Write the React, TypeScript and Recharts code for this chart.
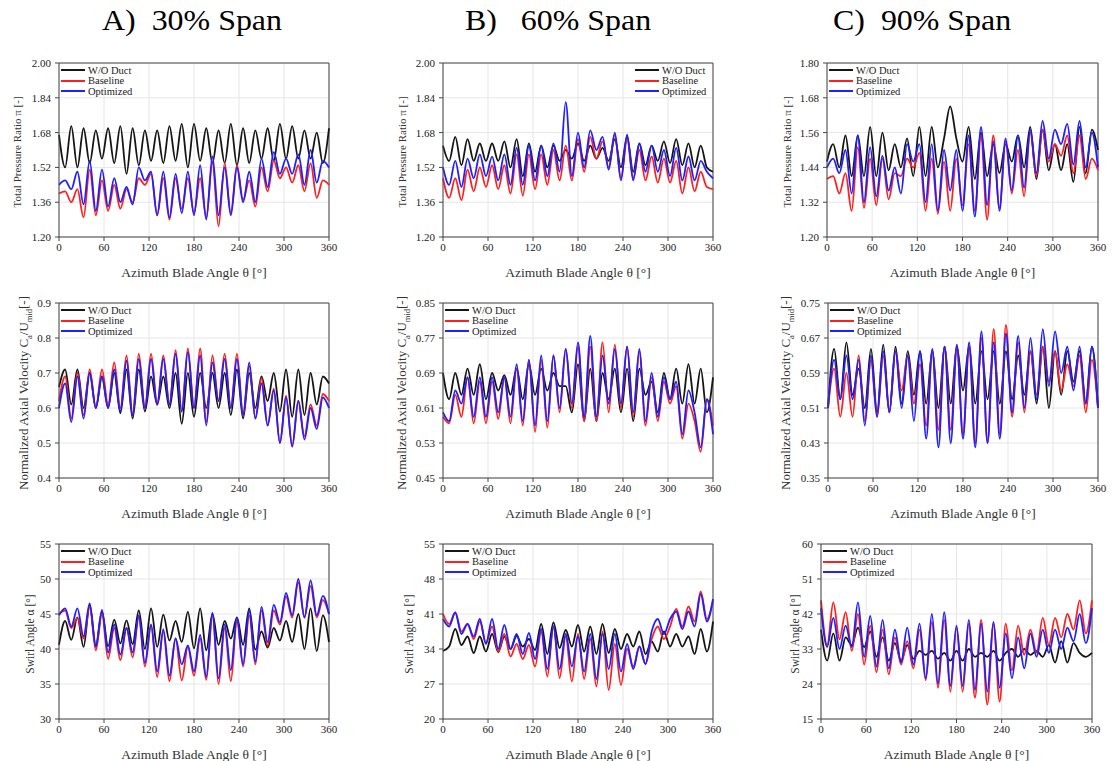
import React from "react";
import { CartesianGrid, Line, LineChart, ReferenceLine, XAxis, YAxis } from "recharts";

const SERIF = '"Liberation Serif", "Times New Roman", serif';

// blade passage angles (22 blades -> peak / trough every ~8.2 deg)
const ANGLES = [
  0, 8.18, 16.36, 24.55, 32.73, 40.91, 49.09, 57.27, 65.45,
  73.64, 81.82, 90, 98.18, 106.36, 114.55, 122.73, 130.91, 139.09,
  147.27, 155.45, 163.64, 171.82, 180, 188.18, 196.36, 204.55, 212.73,
  220.91, 229.09, 237.27, 245.45, 253.64, 261.82, 270, 278.18, 286.36,
  294.55, 302.73, 310.91, 319.09, 327.27, 335.45, 343.64, 351.82, 360,
];
const X_TICKS = [0, 60, 120, 180, 240, 300, 360];

// ---- total pressure ratio ----
const pr30Duct = [
  1.67, 1.52, 1.71, 1.52, 1.70, 1.54, 1.69, 1.56, 1.70,
  1.54, 1.71, 1.49, 1.70, 1.53, 1.69, 1.55, 1.69, 1.54,
  1.71, 1.55, 1.72, 1.52, 1.72, 1.55, 1.70, 1.54, 1.69,
  1.54, 1.72, 1.53, 1.70, 1.54, 1.69, 1.56, 1.70, 1.55,
  1.72, 1.56, 1.71, 1.56, 1.69, 1.56, 1.68, 1.54, 1.70,
];
const pr30Base = [
  1.40, 1.41, 1.36, 1.42, 1.29, 1.51, 1.30, 1.46, 1.32,
  1.44, 1.33, 1.42, 1.36, 1.47, 1.44, 1.49, 1.30, 1.47,
  1.28, 1.47, 1.33, 1.47, 1.31, 1.47, 1.29, 1.54, 1.25,
  1.54, 1.31, 1.53, 1.37, 1.46, 1.34, 1.52, 1.41, 1.55,
  1.47, 1.52, 1.45, 1.53, 1.41, 1.54, 1.38, 1.46, 1.44,
];
const pr30Opt = [
  1.44, 1.46, 1.42, 1.50, 1.35, 1.55, 1.32, 1.51, 1.34,
  1.47, 1.36, 1.43, 1.35, 1.52, 1.46, 1.50, 1.30, 1.50,
  1.29, 1.49, 1.31, 1.50, 1.30, 1.53, 1.28, 1.57, 1.30,
  1.52, 1.30, 1.52, 1.36, 1.50, 1.36, 1.56, 1.43, 1.59,
  1.49, 1.56, 1.49, 1.58, 1.44, 1.60, 1.45, 1.55, 1.52,
];
const pr60Duct = [
  1.62, 1.55, 1.66, 1.53, 1.65, 1.55, 1.63, 1.55, 1.63,
  1.55, 1.64, 1.52, 1.65, 1.48, 1.63, 1.50, 1.62, 1.52,
  1.62, 1.55, 1.60, 1.56, 1.63, 1.55, 1.62, 1.56, 1.61,
  1.55, 1.65, 1.52, 1.66, 1.50, 1.63, 1.53, 1.62, 1.55,
  1.64, 1.54, 1.65, 1.53, 1.63, 1.52, 1.62, 1.52, 1.50,
];
const pr60Base = [
  1.47, 1.38, 1.47, 1.37, 1.51, 1.41, 1.52, 1.43, 1.53,
  1.42, 1.53, 1.40, 1.58, 1.39, 1.58, 1.42, 1.58, 1.44,
  1.60, 1.46, 1.62, 1.46, 1.65, 1.50, 1.66, 1.56, 1.64,
  1.52, 1.67, 1.47, 1.65, 1.47, 1.60, 1.46, 1.57, 1.45,
  1.56, 1.45, 1.55, 1.40, 1.52, 1.41, 1.50, 1.43, 1.42,
];
const pr60Opt = [
  1.52, 1.44, 1.55, 1.43, 1.56, 1.47, 1.58, 1.48, 1.57,
  1.46, 1.58, 1.44, 1.61, 1.44, 1.62, 1.46, 1.62, 1.48,
  1.63, 1.50, 1.82, 1.48, 1.68, 1.52, 1.69, 1.60, 1.66,
  1.51, 1.68, 1.46, 1.67, 1.46, 1.63, 1.50, 1.62, 1.50,
  1.60, 1.48, 1.61, 1.46, 1.57, 1.46, 1.55, 1.50, 1.47,
];
const pr90Duct = [
  1.46, 1.52, 1.44, 1.55, 1.41, 1.55, 1.41, 1.58, 1.41,
  1.56, 1.43, 1.52, 1.44, 1.54, 1.41, 1.58, 1.41, 1.58,
  1.44, 1.54, 1.65, 1.54, 1.46, 1.58, 1.40, 1.56, 1.41,
  1.52, 1.42, 1.52, 1.46, 1.55, 1.44, 1.58, 1.40, 1.57,
  1.43, 1.52, 1.43, 1.52, 1.39, 1.58, 1.42, 1.57, 1.50,
];
const pr90Base = [
  1.40, 1.41, 1.35, 1.42, 1.29, 1.51, 1.30, 1.47, 1.31,
  1.47, 1.33, 1.42, 1.41, 1.47, 1.44, 1.49, 1.29, 1.47,
  1.28, 1.46, 1.29, 1.47, 1.31, 1.52, 1.29, 1.55, 1.26,
  1.55, 1.30, 1.53, 1.35, 1.50, 1.34, 1.56, 1.41, 1.57,
  1.46, 1.52, 1.48, 1.55, 1.42, 1.55, 1.40, 1.47, 1.43,
];
const pr90Opt = [
  1.44, 1.47, 1.42, 1.50, 1.35, 1.55, 1.32, 1.51, 1.34,
  1.48, 1.36, 1.44, 1.35, 1.52, 1.46, 1.52, 1.32, 1.52,
  1.29, 1.50, 1.36, 1.50, 1.29, 1.55, 1.27, 1.58, 1.31,
  1.53, 1.29, 1.54, 1.36, 1.55, 1.37, 1.57, 1.42, 1.60,
  1.47, 1.57, 1.52, 1.59, 1.45, 1.60, 1.44, 1.56, 1.44,
];

// ---- normalized axial velocity ----
const ca30Duct = [
  0.66, 0.71, 0.61, 0.71, 0.60, 0.70, 0.60, 0.69, 0.60,
  0.70, 0.585, 0.71, 0.57, 0.71, 0.59, 0.69, 0.61, 0.69,
  0.60, 0.70, 0.555, 0.70, 0.575, 0.70, 0.60, 0.70, 0.60,
  0.70, 0.58, 0.71, 0.57, 0.70, 0.60, 0.69, 0.62, 0.70,
  0.59, 0.71, 0.575, 0.71, 0.58, 0.70, 0.61, 0.69, 0.67,
];
const ca30Base = [
  0.62, 0.69, 0.57, 0.70, 0.58, 0.71, 0.60, 0.71, 0.61,
  0.73, 0.60, 0.75, 0.58, 0.755, 0.60, 0.755, 0.61, 0.75,
  0.61, 0.765, 0.59, 0.77, 0.60, 0.77, 0.56, 0.75, 0.62,
  0.755, 0.60, 0.755, 0.58, 0.72, 0.57, 0.685, 0.55, 0.655,
  0.50, 0.635, 0.49, 0.62, 0.52, 0.61, 0.55, 0.64, 0.62,
];
const ca30Opt = [
  0.60, 0.67, 0.56, 0.69, 0.57, 0.70, 0.60, 0.69, 0.60,
  0.71, 0.59, 0.735, 0.58, 0.74, 0.60, 0.74, 0.61, 0.74,
  0.61, 0.755, 0.59, 0.76, 0.60, 0.75, 0.55, 0.73, 0.62,
  0.74, 0.60, 0.74, 0.58, 0.73, 0.57, 0.67, 0.55, 0.65,
  0.50, 0.63, 0.49, 0.62, 0.51, 0.60, 0.54, 0.63, 0.60,
];
const ca60Duct = [
  0.69, 0.63, 0.69, 0.64, 0.70, 0.64, 0.71, 0.63, 0.69,
  0.65, 0.685, 0.64, 0.70, 0.63, 0.71, 0.64, 0.70, 0.65,
  0.69, 0.66, 0.66, 0.60, 0.71, 0.58, 0.70, 0.58, 0.69,
  0.63, 0.70, 0.60, 0.70, 0.58, 0.70, 0.64, 0.67, 0.60,
  0.69, 0.63, 0.70, 0.62, 0.71, 0.62, 0.70, 0.60, 0.68,
];
const ca60Base = [
  0.59, 0.575, 0.64, 0.59, 0.68, 0.575, 0.67, 0.575, 0.67,
  0.585, 0.68, 0.575, 0.70, 0.57, 0.72, 0.555, 0.72, 0.565,
  0.73, 0.60, 0.745, 0.61, 0.75, 0.58, 0.75, 0.58, 0.76,
  0.60, 0.755, 0.61, 0.75, 0.59, 0.74, 0.57, 0.68, 0.58,
  0.67, 0.62, 0.66, 0.54, 0.62, 0.58, 0.51, 0.63, 0.57,
];
const ca60Opt = [
  0.60, 0.58, 0.65, 0.62, 0.68, 0.59, 0.68, 0.59, 0.68,
  0.60, 0.68, 0.59, 0.71, 0.58, 0.72, 0.57, 0.73, 0.58,
  0.73, 0.61, 0.745, 0.62, 0.76, 0.59, 0.775, 0.59, 0.73,
  0.62, 0.745, 0.62, 0.75, 0.60, 0.745, 0.58, 0.69, 0.59,
  0.68, 0.63, 0.67, 0.55, 0.65, 0.60, 0.52, 0.63, 0.55,
];
const ca90Duct = [
  0.51, 0.645, 0.53, 0.66, 0.54, 0.60, 0.51, 0.645, 0.50,
  0.655, 0.50, 0.65, 0.52, 0.64, 0.54, 0.64, 0.52, 0.64,
  0.51, 0.65, 0.52, 0.65, 0.55, 0.65, 0.52, 0.64, 0.53,
  0.64, 0.52, 0.64, 0.53, 0.63, 0.54, 0.64, 0.52, 0.65,
  0.51, 0.64, 0.54, 0.64, 0.57, 0.64, 0.52, 0.65, 0.51,
];
const ca90Base = [
  0.51, 0.60, 0.49, 0.59, 0.49, 0.63, 0.48, 0.62, 0.49,
  0.63, 0.50, 0.64, 0.55, 0.63, 0.52, 0.61, 0.47, 0.64,
  0.46, 0.65, 0.46, 0.65, 0.45, 0.65, 0.43, 0.67, 0.43,
  0.69, 0.45, 0.70, 0.49, 0.66, 0.50, 0.64, 0.54, 0.65,
  0.57, 0.64, 0.55, 0.61, 0.56, 0.63, 0.50, 0.62, 0.51,
];
const ca90Opt = [
  0.51, 0.62, 0.53, 0.63, 0.53, 0.62, 0.47, 0.63, 0.49,
  0.64, 0.50, 0.64, 0.51, 0.63, 0.48, 0.64, 0.44, 0.645,
  0.42, 0.65, 0.43, 0.655, 0.44, 0.66, 0.42, 0.685, 0.43,
  0.66, 0.44, 0.68, 0.50, 0.675, 0.51, 0.67, 0.53, 0.69,
  0.56, 0.685, 0.59, 0.65, 0.55, 0.65, 0.52, 0.65, 0.51,
];

// ---- swirl angle ----
const sw30Duct = [
  40.6, 44.0, 41.3, 44.5, 40.3, 46.3, 40.5, 45.3, 40.4,
  44.2, 40.8, 44.1, 40.7, 45.5, 40.0, 45.8, 40.3, 44.9,
  41.2, 44.0, 41.0, 45.3, 40.1, 45.8, 39.8, 45.0, 40.6,
  44.0, 41.5, 44.5, 40.6, 45.8, 39.9, 42.5, 40.2, 43.0,
  41.2, 44.0, 41.0, 45.0, 40.0, 45.8, 39.7, 44.8, 41.0,
];
const sw30Base = [
  45.0, 45.5, 43.0, 44.4, 41.5, 46.0, 39.8, 45.0, 38.6,
  43.0, 38.4, 43.0, 38.8, 44.5, 37.5, 43.3, 36.0, 42.5,
  35.4, 41.5, 35.5, 40.3, 36.2, 41.5, 35.6, 44.8, 35.0,
  43.0, 35.4, 44.0, 37.5, 44.8, 37.8, 45.5, 40.5, 45.5,
  43.5, 47.5, 44.5, 49.5, 44.5, 49.0, 44.5, 47.0, 45.0,
];
const sw30Opt = [
  44.8, 45.8, 43.2, 45.8, 41.8, 46.5, 40.3, 45.6, 39.5,
  43.5, 39.2, 43.0, 39.5, 44.8, 38.0, 43.5, 36.8, 42.8,
  36.2, 41.5, 37.8, 40.5, 36.8, 42.0, 36.0, 45.2, 35.8,
  43.5, 37.0, 44.5, 37.8, 45.5, 38.2, 46.0, 41.0, 46.3,
  43.8, 48.0, 44.8, 50.0, 44.5, 49.8, 44.8, 47.6, 45.0,
];
const sw60Duct = [
  33.6, 34.5, 38.0, 34.8, 36.5, 33.2, 36.5, 33.5, 37.0,
  33.4, 36.5, 34.0, 36.6, 34.5, 36.0, 33.8, 39.0, 33.0,
  39.3, 34.2, 37.8, 34.5, 38.8, 33.5, 38.5, 33.0, 39.0,
  33.2, 38.0, 34.0, 37.0, 34.5, 37.5, 33.0, 35.5, 33.5,
  37.5, 34.5, 37.0, 34.5, 36.5, 33.0, 38.0, 33.5, 39.5,
];
const sw60Base = [
  41.0, 39.0, 41.3, 37.5, 39.0, 36.0, 39.5, 35.2, 38.5,
  33.5, 37.0, 32.5, 35.0, 32.0, 34.8, 30.5, 37.5, 28.5,
  38.5, 28.2, 36.5, 27.5, 37.0, 28.0, 36.0, 26.5, 37.5,
  25.8, 35.0, 26.8, 34.0, 30.5, 34.5, 31.0, 36.0, 38.5,
  36.0, 38.5, 42.0, 38.5, 42.5, 39.5, 45.5, 40.0, 43.5,
];
const sw60Opt = [
  40.0, 38.5, 41.3, 37.0, 39.0, 36.5, 40.0, 35.0, 40.0,
  34.0, 38.8, 34.0, 37.0, 33.0, 37.2, 32.0, 38.0, 30.0,
  38.5, 30.0, 37.0, 30.5, 36.5, 29.5, 37.0, 28.0, 37.0,
  30.0, 37.0, 29.5, 35.0, 30.0, 34.5, 31.0, 37.5, 40.0,
  37.0, 40.0, 41.5, 38.0, 41.5, 38.5, 45.0, 39.5, 44.0,
];
const sw90Duct = [
  38.0, 30.0, 37.0, 30.0, 36.0, 34.0, 38.5, 33.5, 37.5,
  31.0, 36.0, 30.0, 34.5, 30.0, 34.0, 30.5, 32.5, 31.5,
  32.5, 30.5, 32.0, 30.0, 32.5, 30.0, 33.0, 31.0, 32.0,
  31.0, 32.5, 30.0, 32.0, 33.0, 31.0, 33.0, 31.5, 32.5,
  31.0, 34.0, 29.5, 35.0, 29.5, 34.5, 32.0, 31.0, 32.0,
];
const sw90Base = [
  45.5, 34.0, 45.0, 35.5, 42.5, 32.5, 42.0, 29.0, 39.0,
  27.0, 38.0, 26.5, 36.0, 29.0, 35.0, 28.0, 38.0, 25.0,
  40.0, 23.0, 40.5, 22.0, 38.5, 22.0, 39.5, 20.5, 40.5,
  18.7, 39.5, 19.5, 39.5, 27.5, 39.0, 31.5, 38.0, 32.0,
  41.0, 34.0, 41.0, 36.0, 42.0, 38.0, 45.5, 37.0, 45.5,
];
const sw90Opt = [
  43.5, 33.5, 41.0, 33.0, 39.0, 33.5, 45.0, 31.0, 41.5,
  28.5, 40.5, 28.0, 38.0, 29.5, 38.5, 29.0, 39.5, 25.5,
  42.0, 24.0, 42.5, 23.5, 39.0, 23.5, 40.5, 22.5, 39.5,
  22.0, 40.0, 23.0, 37.0, 25.5, 36.0, 28.0, 37.0, 31.0,
  38.0, 32.0, 38.0, 33.0, 38.5, 35.0, 42.0, 34.5, 43.5,
];

const SERIES = [
  { key: "k", name: "W/O Duct", color: "#151515" },
  { key: "r", name: "Baseline", color: "#ff1f1f" },
  { key: "b", name: "Optimized", color: "#1f1fff" },
];

const caLabel = (
  <>
    Normalized Axial Velocity C<sub style={{ fontSize: "0.65em" }}>a</sub>/U
    <sub style={{ fontSize: "0.65em" }}>mid</sub>[-]
  </>
);

type PanelProps = {
  left: number;
  top: number;
  w: number;
  h: number;
  duct: number[];
  base: number[];
  opt: number[];
  domain: [number, number];
  yTicks: number[];
  digits: number;
  yLabel: React.ReactNode;
  yLabelX: number;
  yLabelSize: number;
  legendRight?: boolean;
};

function Panel(p: PanelProps) {
  const data = ANGLES.map((a, i) => ({ a, k: p.duct[i], r: p.base[i], b: p.opt[i] }));
  const AX = 46;
  const tickStyle = { fontSize: 11, fill: "#222", fontFamily: SERIF };
  const legendLeft = p.legendRight ? p.left + p.w - 78 : p.left + 2;
  return (
    <>
      <div style={{ position: "absolute", left: p.left - AX, top: p.top - 6 }}>
        <LineChart
          width={p.w + AX + 12}
          height={p.h + 6 + 24}
          data={data}
          margin={{ top: 6, right: 12, left: 0, bottom: 0 }}
        >
          <CartesianGrid stroke="#e6e6e6" />
          <XAxis
            type="number"
            dataKey="a"
            domain={[0, 360]}
            ticks={X_TICKS}
            interval={0}
            height={24}
            tickSize={4}
            tickMargin={2}
            stroke="#444"
            tick={tickStyle}
          />
          <YAxis
            type="number"
            domain={p.domain}
            ticks={p.yTicks}
            interval={0}
            width={AX}
            tickSize={4}
            tickMargin={4}
            stroke="#444"
            tick={tickStyle}
            tickFormatter={(v: number) => v.toFixed(p.digits)}
          />
          <ReferenceLine x={360} stroke="#444" />
          <ReferenceLine y={p.domain[1]} stroke="#444" />
          {SERIES.map((s) => (
            <Line
              key={s.key}
              type="monotone"
              dataKey={s.key}
              stroke={s.color}
              strokeWidth={1.8}
              dot={false}
              isAnimationActive={false}
            />
          ))}
        </LineChart>
      </div>
      <div
        style={{
          position: "absolute",
          left: legendLeft,
          top: p.top + 2,
          fontFamily: SERIF,
          fontSize: 10.5,
          color: "#222",
        }}
      >
        {SERIES.map((s) => (
          <div key={s.key} style={{ display: "flex", alignItems: "center", height: 10.5 }}>
            <span style={{ display: "inline-block", width: 24, height: 2, background: s.color, marginRight: 3 }} />
            {s.name}
          </div>
        ))}
      </div>
      <div
        style={{
          position: "absolute",
          left: p.yLabelX,
          top: p.top + p.h / 2 + 2,
          transform: "translate(-50%, -50%) rotate(-90deg)",
          whiteSpace: "nowrap",
          fontFamily: SERIF,
          fontSize: p.yLabelSize,
          color: "#333",
        }}
      >
        {p.yLabel}
      </div>
      <div
        style={{
          position: "absolute",
          left: p.left + p.w / 2,
          top: p.top + p.h + 28,
          transform: "translate(-50%, 0)",
          whiteSpace: "nowrap",
          fontFamily: SERIF,
          fontSize: 13.5,
          color: "#333",
        }}
      >
        Azimuth Blade Angle θ [°]
      </div>
    </>
  );
}

const TITLES = [
  { text: "A)  30% Span", left: 102 },
  { text: "B)   60% Span", left: 465 },
  { text: "C)  90% Span", left: 833 },
];

export default function App() {
  const row1 = { top: 63, h: 174 };
  const row2 = { top: 303, h: 175 };
  const row3 = { top: 544, h: 175 };
  return (
    <div
      style={{
        position: "absolute",
        left: 0,
        top: 0,
        width: 1114,
        height: 761,
        background: "#fff",
        overflow: "hidden",
      }}
    >
      {TITLES.map((t) => (
        <div
          key={t.text}
          style={{
            position: "absolute",
            left: t.left,
            top: 6,
            fontFamily: SERIF,
            fontSize: 28.5,
            lineHeight: "30px",
            whiteSpace: "pre",
            color: "#000",
            transform: "scaleX(1.12)",
            transformOrigin: "left top",
          }}
        >
          {t.text}
        </div>
      ))}

      <Panel left={59} w={270} {...row1} duct={pr30Duct} base={pr30Base} opt={pr30Opt}
        domain={[1.2, 2.0]} yTicks={[1.2, 1.36, 1.52, 1.68, 1.84, 2.0]} digits={2}
        yLabel="Total Pressure Ratio π [-]" yLabelX={17} yLabelSize={11} />
      <Panel left={443} w={270} {...row1} duct={pr60Duct} base={pr60Base} opt={pr60Opt}
        domain={[1.2, 2.0]} yTicks={[1.2, 1.36, 1.52, 1.68, 1.84, 2.0]} digits={2}
        yLabel="Total Pressure Ratio π [-]" yLabelX={402} yLabelSize={11} legendRight />
      <Panel left={827} w={271} {...row1} duct={pr90Duct} base={pr90Base} opt={pr90Opt}
        domain={[1.2, 1.8]} yTicks={[1.2, 1.32, 1.44, 1.56, 1.68, 1.8]} digits={2}
        yLabel="Total Pressure Ratio π [-]" yLabelX={787} yLabelSize={11} />

      <Panel left={59} w={270} {...row2} duct={ca30Duct} base={ca30Base} opt={ca30Opt}
        domain={[0.4, 0.9]} yTicks={[0.4, 0.5, 0.6, 0.7, 0.8, 0.9]} digits={1}
        yLabel={caLabel} yLabelX={25} yLabelSize={13} />
      <Panel left={443} w={270} {...row2} duct={ca60Duct} base={ca60Base} opt={ca60Opt}
        domain={[0.45, 0.85]} yTicks={[0.45, 0.53, 0.61, 0.69, 0.77, 0.85]} digits={2}
        yLabel={caLabel} yLabelX={403} yLabelSize={13} />
      <Panel left={828} w={270} {...row2} duct={ca90Duct} base={ca90Base} opt={ca90Opt}
        domain={[0.35, 0.75]} yTicks={[0.35, 0.43, 0.51, 0.59, 0.67, 0.75]} digits={2}
        yLabel={caLabel} yLabelX={787} yLabelSize={13} />

      <Panel left={59} w={270} {...row3} duct={sw30Duct} base={sw30Base} opt={sw30Opt}
        domain={[30, 55]} yTicks={[30, 35, 40, 45, 50, 55]} digits={0}
        yLabel="Swirl Angle α [°]" yLabelX={30} yLabelSize={11.5} />
      <Panel left={443} w={270} {...row3} duct={sw60Duct} base={sw60Base} opt={sw60Opt}
        domain={[20, 55]} yTicks={[20, 27, 34, 41, 48, 55]} digits={0}
        yLabel="Swirl Angle α [°]" yLabelX={409} yLabelSize={11.5} />
      <Panel left={821} w={271} {...row3} duct={sw90Duct} base={sw90Base} opt={sw90Opt}
        domain={[15, 60]} yTicks={[15, 24, 33, 42, 51, 60]} digits={0}
        yLabel="Swirl Angle α [°]" yLabelX={795} yLabelSize={11.5} />
    </div>
  );
}
